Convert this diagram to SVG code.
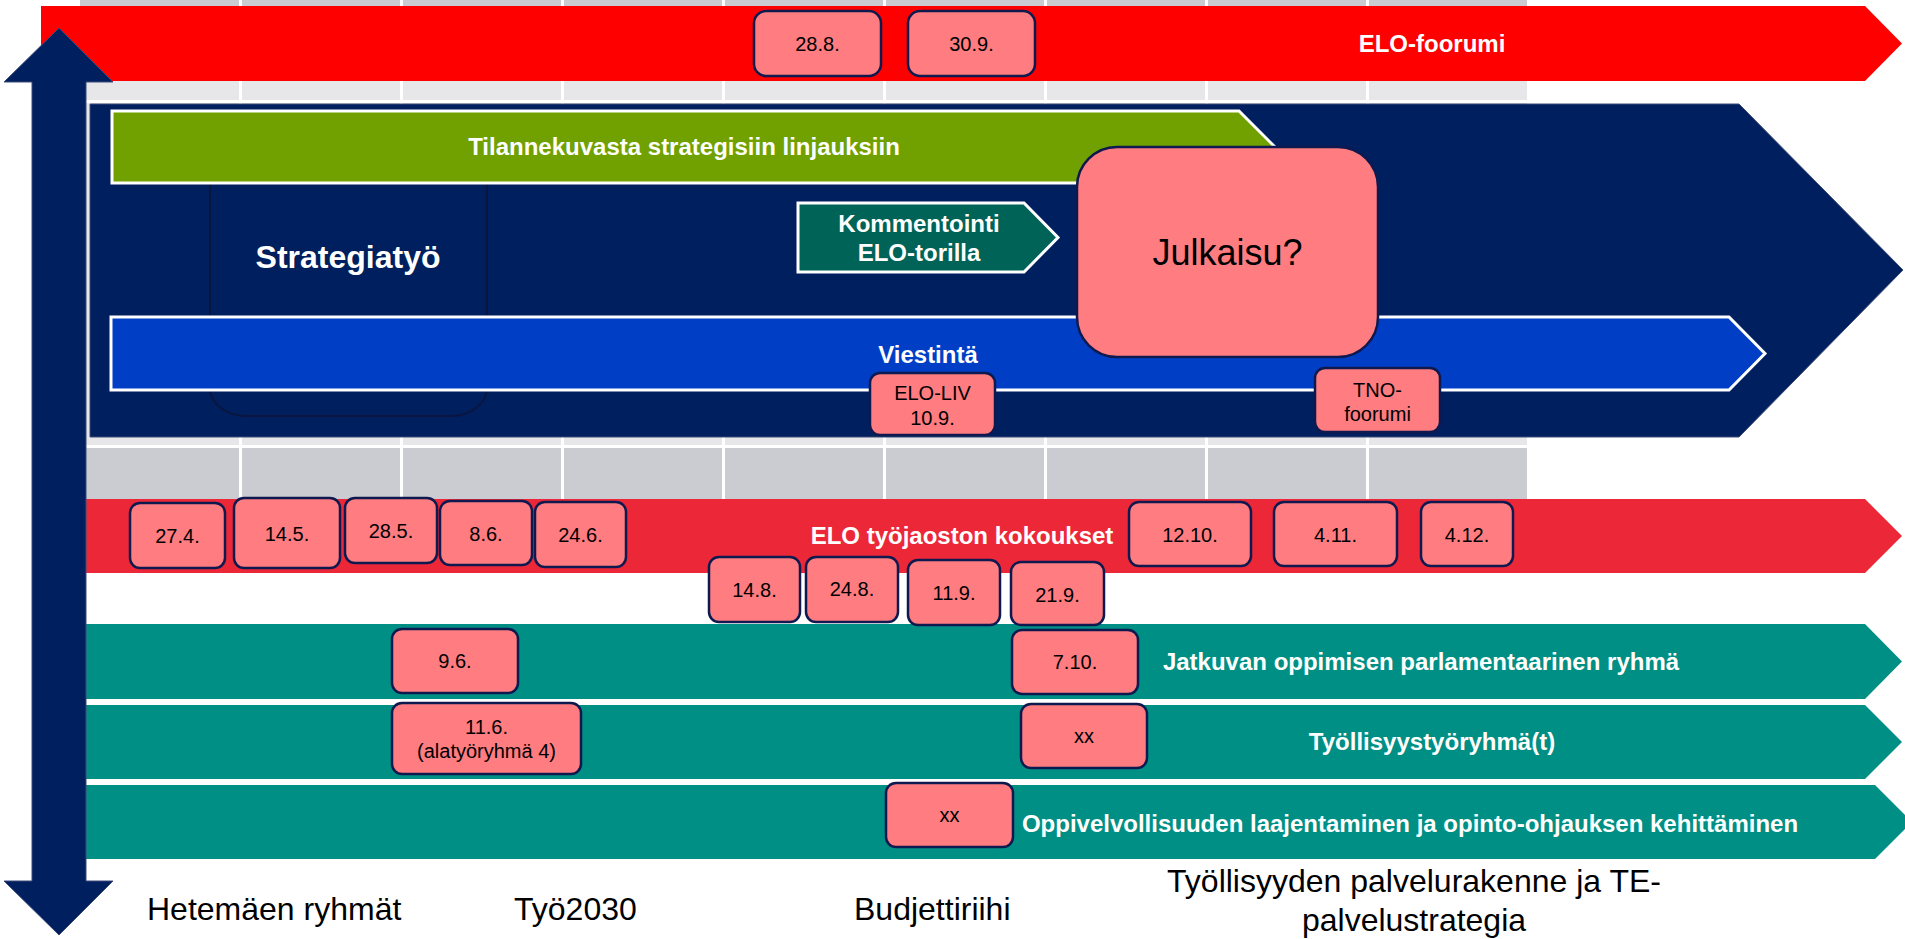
<svg xmlns="http://www.w3.org/2000/svg" width="1905" height="939" viewBox="0 0 1905 939">
<style>
.box{fill:#FF7C80;stroke:#0E1A4F;stroke-width:2.5}
.bt{font-family:"Liberation Sans",Arial,sans-serif;font-size:20px;fill:#000;text-anchor:middle}
.lbl{font-family:"Liberation Sans",Arial,sans-serif;font-size:24px;font-weight:bold;fill:#fff;text-anchor:middle}
.bot{font-family:"Liberation Sans",Arial,sans-serif;font-size:32px;fill:#000}
.wl{fill:#fff}
</style>
<rect width="1905" height="939" fill="#fff"/>
<g id="grid">
<rect x="80" y="0" width="1447" height="499" fill="#CBCCD1"/>
<rect x="80" y="81" width="1447" height="365" fill="#E7E7EA"/>
<rect class="wl" x="80" y="100" width="1447" height="3"/>
<rect class="wl" x="80" y="445" width="1447" height="3"/>
<rect class="wl" x="239" y="0" width="3" height="499"/>
<rect class="wl" x="400" y="0" width="3" height="499"/>
<rect class="wl" x="561" y="0" width="3" height="499"/>
<rect class="wl" x="722" y="0" width="3" height="499"/>
<rect class="wl" x="883" y="0" width="3" height="499"/>
<rect class="wl" x="1044" y="0" width="3" height="499"/>
<rect class="wl" x="1205" y="0" width="3" height="499"/>
<rect class="wl" x="1366" y="0" width="3" height="499"/>
</g>
<g id="elo-foorumi">
<polygon points="41,6 1865,6 1902,43.5 1865,81 41,81" fill="#FF0000"/>
<text class="lbl" x="1432" y="52">ELO-foorumi</text>
</g>
<g id="strategiatyo-arrow">
<polygon points="90,104 1739,104 1903,270 1739,437 90,437" fill="#001F5E" stroke="#3C4A78" stroke-width="1"/>
</g>
<g id="strategiatyo">
<rect x="210" y="150" width="277" height="266" rx="36" ry="28" fill="#001F5E" stroke="#0A1640" stroke-width="2"/>
<text x="348" y="268" font-family="Liberation Sans, Arial, sans-serif" font-size="32" font-weight="bold" fill="#fff" text-anchor="middle">Strategiatyö</text>
</g>
<g id="tilannekuva">
<polygon points="112,111 1239,111 1275,147 1239,183 112,183" fill="#70A100" stroke="#fff" stroke-width="3"/>
<text class="lbl" x="684" y="155">Tilannekuvasta strategisiin linjauksiin</text>
</g>
<g id="kommentointi">
<polygon points="798,203 1024,203 1058,237.5 1024,272 798,272" fill="#006357" stroke="#fff" stroke-width="3"/>
<text class="lbl" x="919" y="232">Kommentointi</text>
<text class="lbl" x="919" y="261">ELO-torilla</text>
</g>
<g id="viestinta">
<polygon points="111,317 1729,317 1765,353.5 1729,390 111,390" fill="#003EC6" stroke="#fff" stroke-width="3"/>
<text class="lbl" x="928" y="363">Viestintä</text>
</g>
<g id="julkaisu">
<rect class="box" x="1077" y="147" width="301" height="210" rx="40" stroke-width="3"/>
<text x="1227.5" y="265" font-family="Liberation Sans, Arial, sans-serif" font-size="36" fill="#000" text-anchor="middle">Julkaisu?</text>
</g>
<g id="elo-liv">
<rect class="box" x="870" y="373" width="125" height="62" rx="10"/>
<text class="bt" x="932.5" y="400">ELO-LIV</text>
<text class="bt" x="932.5" y="425">10.9.</text>
</g>
<g id="tno">
<rect class="box" x="1315" y="368" width="125" height="64" rx="10"/>
<text class="bt" x="1377.5" y="397">TNO-</text>
<text class="bt" x="1377.5" y="421">foorumi</text>
</g>
<g id="d-28-8"><rect class="box" x="754" y="11" width="127" height="65" rx="12"/><text class="bt" x="817.5" y="51">28.8.</text></g>
<g id="d-30-9"><rect class="box" x="908" y="11" width="127" height="65" rx="12"/><text class="bt" x="971.5" y="51">30.9.</text></g>
<g id="elo-tyojaosto">
<polygon points="84,499 1865,499 1902,536 1865,573 84,573" fill="#EC2838"/>
<text class="lbl" x="962" y="544">ELO työjaoston kokoukset</text>
</g>
<g id="jatkuva">
<polygon points="84,624 1865,624 1902,661.5 1865,699 84,699" fill="#008F84"/>
<text class="lbl" x="1421" y="670">Jatkuvan oppimisen parlamentaarinen ryhmä</text>
</g>
<g id="tyollisyys">
<polygon points="84,705 1865,705 1902,742 1865,779 84,779" fill="#008F84"/>
<text class="lbl" x="1432" y="750">Työllisyystyöryhmä(t)</text>
</g>
<g id="oppivelvollisuus">
<polygon points="84,785 1875,785 1912,822 1875,859 84,859" fill="#008F84"/>
<text class="lbl" x="1410" y="832">Oppivelvollisuuden laajentaminen ja opinto-ohjauksen kehittäminen</text>
</g>
<g id="d-27-4"><rect class="box" x="130" y="503" width="95" height="65" rx="10"/><text class="bt" x="177.5" y="543">27.4.</text></g>
<g id="d-14-5"><rect class="box" x="234" y="498" width="106" height="70" rx="10"/><text class="bt" x="287" y="541">14.5.</text></g>
<g id="d-28-5"><rect class="box" x="345" y="498" width="92" height="65" rx="10"/><text class="bt" x="391" y="538">28.5.</text></g>
<g id="d-8-6"><rect class="box" x="440" y="501" width="92" height="64" rx="10"/><text class="bt" x="486" y="541">8.6.</text></g>
<g id="d-24-6"><rect class="box" x="535" y="502" width="91" height="65" rx="10"/><text class="bt" x="580.5" y="542">24.6.</text></g>
<g id="d-14-8"><rect class="box" x="709" y="557" width="91" height="65" rx="10"/><text class="bt" x="754.5" y="597">14.8.</text></g>
<g id="d-24-8"><rect class="box" x="806" y="557" width="92" height="65" rx="10"/><text class="bt" x="852" y="596">24.8.</text></g>
<g id="d-11-9"><rect class="box" x="908" y="560" width="92" height="65" rx="10"/><text class="bt" x="954" y="600">11.9.</text></g>
<g id="d-21-9"><rect class="box" x="1011" y="562" width="93" height="63" rx="10"/><text class="bt" x="1057.5" y="602">21.9.</text></g>
<g id="d-12-10"><rect class="box" x="1129" y="502" width="122" height="64" rx="10"/><text class="bt" x="1190" y="542">12.10.</text></g>
<g id="d-4-11"><rect class="box" x="1274" y="502" width="123" height="64" rx="10"/><text class="bt" x="1335.5" y="542">4.11.</text></g>
<g id="d-4-12"><rect class="box" x="1421" y="502" width="92" height="64" rx="10"/><text class="bt" x="1467" y="542">4.12.</text></g>
<g id="d-9-6"><rect class="box" x="392" y="629" width="126" height="64" rx="10"/><text class="bt" x="455" y="668">9.6.</text></g>
<g id="d-7-10"><rect class="box" x="1012" y="630" width="126" height="64" rx="10"/><text class="bt" x="1075" y="669">7.10.</text></g>
<g id="d-11-6"><rect class="box" x="392" y="703" width="189" height="71" rx="10"/><text class="bt" x="486.5" y="734">11.6.</text><text class="bt" x="486.5" y="758">(alatyöryhmä 4)</text></g>
<g id="d-xx-1"><rect class="box" x="1021" y="704" width="126" height="64" rx="10"/><text class="bt" x="1084" y="743">xx</text></g>
<g id="d-xx-2"><rect class="box" x="886" y="783" width="127" height="64" rx="10"/><text class="bt" x="949.5" y="822">xx</text></g>
<g id="connectors">
<path d="M59,28 L113,82 L86,82 L86,881 L113,881 L59,935 L4,881 L32,881 L32,82 L4,82 Z" fill="#001F5E" stroke="#3C4A78" stroke-width="1"/>
</g>
<g id="labels">
<text class="bot" x="147" y="920">Hetemäen ryhmät</text>
<text class="bot" x="514" y="920">Työ2030</text>
<text class="bot" x="854" y="920">Budjettiriihi</text>
<text class="bot" x="1414" y="892" text-anchor="middle">Työllisyyden palvelurakenne ja TE-</text>
<text class="bot" x="1414" y="931" text-anchor="middle">palvelustrategia</text>
</g>
</svg>
